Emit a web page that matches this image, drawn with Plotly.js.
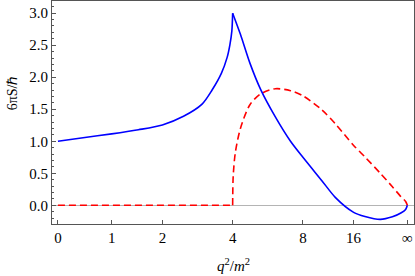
<!DOCTYPE html>
<html>
<head>
<meta charset="utf-8">
<script src="https://cdn.plot.ly/plotly-3.0.1.min.js"></script>
<style>
html,body{margin:0;padding:0;background:#fff;}
#chart{width:415px;height:276px;}
</style>
</head>
<body>
<div id="chart"></div>
<script>
// x axis tick labels (q^2/m^2) on the compactified scale
const tickQ2 = [0, 1, 2, 4, 8, 16, Infinity];
const tickLabels = ['0', '1', '2', '4', '8', '16', '∞'];

// blue solid curve
const q2Blue = [0, 0.5, 1, 1.5, 2, 2.5, 3, 3.3, 3.6, 3.8, 3.9, 3.97, 4, 4.3, 4.7, 5.2, 6, 7, 8, 10, 12, 16, 20, 30, 50, 100, 300, Infinity];
const sBlue  = [1.00, 1.055, 1.115, 1.18, 1.255, 1.39, 1.58, 1.80, 2.06, 2.31, 2.51, 2.72, 3.00, 2.67, 2.22, 1.81, 1.38, 1.00, 0.75, 0.385, 0.12, -0.11, -0.175, -0.22, -0.18, -0.12, -0.065, 0];

// red dashed curve
const q2Red = [0, 4, 4.02, 4.1, 4.3, 4.7, 5.2, 6, 7, 8, 10, 12, 16, 20, 30, 50, 100, 300, Infinity];
const sRed  = [0, 0, 0.45, 0.82, 1.20, 1.57, 1.74, 1.82, 1.79, 1.71, 1.49, 1.27, 0.935, 0.755, 0.50, 0.29, 0.135, 0.06, 0];

// compactifying axis scale: 0 -> -1, 4 -> 0, infinity -> 1
const P = 1.23;
function scale(q) { return 1 - 2 / (Math.pow(q / 4, P) + 1); }

function branch(qs, ys, test) {
  const x = [], y = [];
  qs.forEach((q, i) => { if (test(q)) { x.push(scale(q)); y.push(ys[i]); } });
  return {x, y};
}

const serif = 'Liberation Serif';
const frame = '#555555';

const blueL = branch(q2Blue, sBlue, q => q <= 4);
const blueR = branch(q2Blue, sBlue, q => q >= 4);
const redL = branch(q2Red, sRed, q => q <= 4);
const redR = branch(q2Red, sRed, q => q >= 4);

const redLine = {color: '#ff0000', width: 1.6, dash: '7px,4px', shape: 'spline', smoothing: 0.8};
const blueLine = {color: '#0000ff', width: 1.6, shape: 'spline', smoothing: 0.8};

const traces = [
  {x: redL.x, y: redL.y, type: 'scatter', mode: 'lines', line: Object.assign({}, redLine, {shape: 'linear'}), hoverinfo: 'skip'},
  {x: redR.x, y: redR.y, type: 'scatter', mode: 'lines', line: redLine, hoverinfo: 'skip'},
  {x: blueL.x, y: blueL.y, type: 'scatter', mode: 'lines', line: blueLine, hoverinfo: 'skip'},
  {x: blueR.x, y: blueR.y, type: 'scatter', mode: 'lines', line: blueLine, hoverinfo: 'skip'}
];

const layout = {
  width: 415, height: 276,
  margin: {l: 52, r: 1, t: 1, b: 52, pad: 0},
  paper_bgcolor: '#ffffff', plot_bgcolor: '#ffffff',
  showlegend: false,
  font: {family: serif, size: 15, color: '#000'},
  xaxis: {
    range: [-1.034, 1.038], showgrid: false, zeroline: false,
    showline: true, mirror: true, linecolor: frame, linewidth: 1,
    ticks: 'inside', ticklen: 4, tickcolor: frame, tickwidth: 1,
    tickmode: 'array', tickvals: tickQ2.map(scale), ticktext: tickLabels,
    tickfont: {family: serif, size: 15, color: '#000'}
  },
  yaxis: {
    range: [-0.292, 3.19], showgrid: false,
    zeroline: true, zerolinecolor: '#b4b4b4', zerolinewidth: 1,
    showline: true, mirror: true, linecolor: frame, linewidth: 1,
    ticks: 'inside', ticklen: 4, tickcolor: frame, tickwidth: 1,
    dtick: 0.5, tick0: 0, tickformat: '.1f',
    minor: {dtick: 0.1, ticks: 'inside', ticklen: 2, tickcolor: frame, showgrid: false},
    tickfont: {family: serif, size: 15, color: '#000'}
  },
  annotations: [
    {text: '6πS/ℏ', xref: 'paper', yref: 'paper', x: -0.11, y: 0.587,
     textangle: -90, showarrow: false, xanchor: 'center', yanchor: 'middle',
     font: {family: serif, size: 14, color: '#000'}},
    {text: '<i>q</i><sup>2</sup>/<i>m</i><sup>2</sup>', xref: 'paper', yref: 'paper',
     x: 0.5, y: -0.184, showarrow: false, xanchor: 'center', yanchor: 'middle',
     font: {family: serif, size: 15, color: '#000'}}
  ]
};

Plotly.newPlot('chart', traces, layout, {staticPlot: true, displayModeBar: false});
</script>
</body>
</html>
